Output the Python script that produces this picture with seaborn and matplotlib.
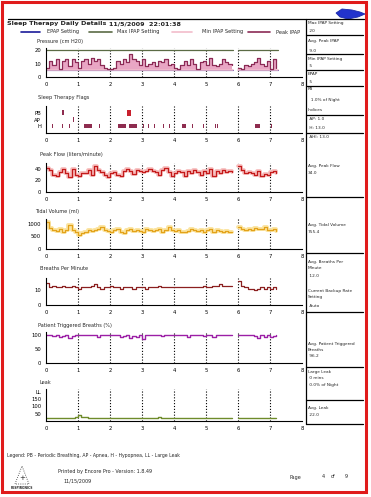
import numpy as np
import pandas as pd
import matplotlib
matplotlib.use("Agg")
import matplotlib.pyplot as plt
from matplotlib.lines import Line2D
from matplotlib.patches import Polygon, Rectangle
import seaborn as sns

sns.set_style("white")
plt.rcParams["font.family"] = ["DejaVu Sans"]

# ---------------- data ----------------
hours_seg1 = [0.0, 0.1, 0.2, 0.3, 0.4, 0.5, 0.6, 0.7, 0.8, 0.9,
              1.0, 1.1, 1.2, 1.3, 1.4, 1.5, 1.6, 1.7, 1.8, 1.9,
              2.0, 2.1, 2.2, 2.3, 2.4, 2.5, 2.6, 2.7, 2.8, 2.9,
              3.0, 3.1, 3.2, 3.3, 3.4, 3.5, 3.6, 3.7, 3.8, 3.9,
              4.0, 4.1, 4.2, 4.3, 4.4, 4.5, 4.6, 4.7, 4.8, 4.9,
              5.0, 5.1, 5.2, 5.3, 5.4, 5.5, 5.6, 5.7, 5.8]
hours_seg2 = [6.0, 6.1, 6.2, 6.3, 6.4, 6.5, 6.6, 6.7, 6.8, 6.9, 7.0, 7.1, 7.2]

peak_ipap_1 = [7, 12, 9, 13, 6, 12, 13, 8, 13, 11,
               7, 12, 13, 10, 14, 12, 13, 9, 7, 6,
               6, 7, 12, 10, 13, 11, 17, 13, 12, 9,
               13, 8, 10, 11, 8, 12, 11, 13, 9, 10,
               7, 6, 9, 12, 9, 13, 10, 6, 11, 12,
               9, 14, 9, 8, 10, 13, 11, 10, 9]
peak_ipap_2 = [7, 6, 9, 8, 10, 11, 14, 10, 8, 12, 6, 13, 7]
epap_setting = 5
min_ipap_setting = 5
max_ipap_setting = 20

peak_flow_1 = [42, 38, 30, 27, 35, 40, 33, 26, 40, 30,
               27, 32, 33, 38, 30, 44, 38, 34, 30, 25,
               33, 35, 30, 27, 37, 40, 36, 31, 38, 36,
               34, 37, 40, 36, 34, 30, 38, 41, 35, 28,
               33, 37, 34, 27, 36, 32, 38, 35, 30, 37,
               33, 40, 28, 36, 33, 38, 34, 36, 35]
peak_flow_2 = [45, 38, 32, 35, 33, 30, 36, 28, 31, 30, 34, 36, 33]

tidal_1 = [1100, 850, 760, 720, 800, 700, 760, 950, 780, 700,
           560, 650, 700, 780, 720, 760, 820, 900, 760, 720,
           700, 780, 800, 700, 650, 760, 800, 720, 780, 740,
           700, 820, 780, 740, 760, 800, 700, 760, 880, 780,
           720, 760, 700, 680, 740, 800, 760, 720, 780, 700,
           760, 820, 700, 760, 720, 680, 740, 700, 680]
tidal_2 = [880, 820, 780, 800, 760, 840, 820, 800, 900, 780, 760, 820, 720]

breaths_1 = [15, 12, 13, 12, 12, 13, 12, 12, 13, 12,
             11, 12, 12, 12, 13, 14, 12, 11, 12, 12,
             13, 12, 12, 11, 12, 12, 12, 11, 12, 12,
             12, 11, 12, 12, 12, 13, 12, 12, 12, 12,
             12, 12, 12, 12, 12, 12, 12, 12, 12, 13,
             12, 12, 13, 13, 14, 13, 13, 13, 13]
breaths_2 = [16, 13, 12, 11, 11, 10, 11, 12, 11, 12, 11, 12, 11]

triggered_1 = [100, 98, 96, 100, 92, 97, 100, 90, 95, 100,
               100, 100, 100, 100, 100, 100, 94, 100, 100, 100,
               100, 100, 100, 94, 96, 100, 88, 96, 92, 100,
               86, 100, 100, 100, 98, 100, 96, 100, 100, 100,
               100, 100, 98, 100, 92, 100, 100, 100, 98, 95,
               100, 100, 94, 100, 100, 100, 98, 100, 100]
triggered_2 = [100, 100, 100, 100, 100, 96, 90, 98, 92, 100, 94, 96, 100]

leak_1 = [20, 18, 18, 19, 20, 20, 22, 22, 24, 28,
          38, 30, 25, 22, 22, 21, 20, 20, 21, 20,
          22, 21, 20, 20, 20, 22, 21, 20, 22, 21,
          20, 20, 20, 22, 24, 26, 22, 21, 20, 20,
          20, 20, 20, 20, 20, 20, 20, 22, 22, 20,
          22, 24, 22, 20, 22, 20, 20, 20, 20]
leak_2 = [22, 22, 22, 22, 22, 22, 22, 22, 22, 22, 22, 22, 22]

# flag events: start hour, duration hour
flag_h_start = [0.19, 0.51, 0.71, 0.86, 1.19, 1.65, 2.26, 2.6, 3.03, 3.19, 3.39,
                3.66, 3.84, 4.24, 4.57, 4.91, 5.27, 5.35, 6.53, 6.64, 7.04]
flag_h_dur = [0.03, 0.03, 0.03, 0.03, 0.24, 0.04, 0.24, 0.25, 0.03, 0.04, 0.03,
              0.03, 0.03, 0.13, 0.03, 0.04, 0.03, 0.03, 0.09, 0.05, 0.03]
flag_pb_start = [0.51, 2.53]
flag_pb_dur = [0.04, 0.12]
flag_ap_start = [0.85]
flag_ap_dur = [0.03]
flag_labels = ["H", "AP", "PB"]

sidebar_entries = [
    (23, "Max IPAP Setting"), (31, " 20"),
    (41, "Avg. Peak IPAP"), (51, " 9.0"),
    (59, "Min IPAP Setting"), (66, " 5"),
    (74, "EPAP"), (82, " 5"),
    (89, "PB"), (100, "  1.0% of Night"),
    (110, "Indices"), (119, " AP: 1.0"), (128, " H: 13.0"),
    (137, " AHI: 13.0"),
    (166, "Avg. Peak Flow"), (173, "34.0"),
    (225, "Avg. Tidal Volume"), (232, "755.4"),
    (262, "Avg. Breaths Per"), (268, "Minute"), (276, " 12.0"),
    (291, "Current Backup Rate"), (297, "Setting"), (306, " Auto"),
    (344, "Avg. Patient Triggered"), (350, "Breaths"), (356, " 96.2"),
    (372, "Large Leak"), (378, " 0 mins"), (385, " 0.0% of Night"),
    (408, "Avg. Leak"), (415, " 22.0"),
]
sidebar_lines = [35, 54, 70, 86, 115, 133, 197, 253, 312, 367, 400, 424]

# ---------------- helpers ----------------
W, H = 371, 497
fig = plt.figure(figsize=(W / 100, H / 100), dpi=100)
fig.patch.set_facecolor("white")


def fx(x):
    return x / W


def fy(y):
    return 1 - y / H


def ftext(x, y, s, size=3.6, **kw):
    fig.text(fx(x), fy(y), s, fontsize=size, va="center", ha=kw.pop("ha", "left"), **kw)


def fline(x0, y0, x1, y1, color="black", lw=0.8, **kw):
    fig.add_artist(Line2D([fx(x0), fx(x1)], [fy(y0), fy(y1)], color=color, lw=lw,
                          transform=fig.transFigure, **kw))


def make_ax(top, bottom):
    ax = fig.add_axes([fx(46), fy(bottom), (302 - 46) / W, (bottom - top) / H])
    ax.set_facecolor("none")
    for s in ["top", "right"]:
        ax.spines[s].set_visible(False)
    for s in ["left", "bottom"]:
        ax.spines[s].set_color("black")
        ax.spines[s].set_linewidth(0.8)
    ax.set_xlim(0, 8)
    ax.set_xticks(range(9))
    ax.tick_params(axis="both", direction="inout", length=3, width=0.6,
                   labelsize=3.8, pad=2, colors="black")
    for h in range(1, 8):
        ax.axvline(h, color="black", ls=(0, (1, 1.6)), lw=0.8, zorder=0)
    return ax


def seg_df(v1, v2):
    return pd.DataFrame({
        "hours": hours_seg1 + hours_seg2,
        "value": v1 + v2,
        "seg": [1] * len(hours_seg1) + [2] * len(hours_seg2),
    })


def draw_series(ax, v1, v2, color, lw=0.9, halo=None, halo_lw=3.0):
    df = seg_df(v1, v2)
    if halo is not None:
        sns.lineplot(data=df, x="hours", y="value", units="seg", estimator=None,
                     ax=ax, color=halo, lw=halo_lw, drawstyle="steps-post",
                     legend=False)
    sns.lineplot(data=df, x="hours", y="value", units="seg", estimator=None,
                 ax=ax, color=color, lw=lw, drawstyle="steps-post", legend=False)
    ax.set_xlabel("")
    ax.set_ylabel("")


# ---------------- header ----------------
fig.add_artist(Rectangle((fx(2), fy(492)), fx(366) - fx(2), fy(2) - fy(492),
                         transform=fig.transFigure, fill=False,
                         edgecolor="#e01b1b", lw=2.2))
fline(8, 19, 364, 19, lw=0.9)
ftext(7, 24, "Sleep Therapy Daily Details", size=4.6, fontweight="bold", color="#222222")
ftext(109, 24, "11/5/2009  22:01:38", size=4.6, fontweight="bold", color="#222222")
# blue scribble
fig.add_artist(Polygon([(fx(x), fy(y)) for x, y in
                        [(336, 13), (342, 9), (352, 10), (360, 12), (365, 14),
                         (358, 17), (348, 19), (340, 17)]],
                       closed=True, transform=fig.transFigure,
                       facecolor="#2233cc", edgecolor="#1a2aaa", lw=0.6))

legend_items = [
    (21, 40, "#1a1a9a", 47, "EPAP Setting"),
    (89, 112, "#5b6b45", 117, "Max IPAP Setting"),
    (172, 192, "#f2bccb", 202, "Min IPAP Setting"),
    (248, 270, "#8b2a55", 276, "Peak IPAP"),
]
for x0, x1, c, tx, lab in legend_items:
    fline(x0, 32, x1, 32, color=c, lw=1.2)
    ftext(tx, 32, lab, size=3.6)

# ---------------- panels ----------------
# Pressure
ftext(37, 42, "Pressure (cm H20)", size=3.6)
ax = make_ax(48, 77)
ax.set_ylim(0, 21.5)
ax.set_yticks([0, 10, 20])
for hs, vs in [(hours_seg1, peak_ipap_1), (hours_seg2, peak_ipap_2)]:
    ax.fill_between(hs, min_ipap_setting, vs, step="post", color="#e9a6c4", lw=0)
    ax.plot([hs[0], hs[-1] + 0.05], [max_ipap_setting] * 2, color="#5b6b45", lw=0.9)
    ax.plot([hs[0], hs[-1] + 0.05], [epap_setting] * 2, color="#1a1a9a", lw=0.8)
    ax.plot([hs[0], hs[-1] + 0.05], [min_ipap_setting] * 2, color="#f2bccb", lw=1.2)
draw_series(ax, peak_ipap_1, peak_ipap_2, "#8b2a55", lw=0.9)
ax.set_ylim(0, 21.5)

# Flags
ftext(38, 97, "Sleep Therapy Flags", size=3.6)
ax = make_ax(106, 133)
ax.set_ylim(0, 4)
ax.set_yticks([1, 2, 3])
ax.set_yticklabels(flag_labels)
ax.bar(flag_h_start, 0.6, width=flag_h_dur, bottom=0.7, align="edge",
       color="#8e2c4f", lw=0)
ax.bar(flag_ap_start, 0.7, width=flag_ap_dur, bottom=1.65, align="edge",
       color="#8e2c4f", lw=0)
ax.bar(flag_pb_start, [0.7, 0.9], width=flag_pb_dur, bottom=[2.65, 2.55], align="edge",
       color=["#8e2c4f", "#c8202e"], lw=0)

# Peak flow
ftext(40, 155, "Peak Flow (liters/minute)", size=3.6)
ax = make_ax(163, 192)
draw_series(ax, peak_flow_1, peak_flow_2, "#c41a1a", lw=0.9, halo="#f6b8b8", halo_lw=2.6)
ax.set_ylim(0, 50)
ax.set_yticks([0, 20, 40])

# Tidal volume
ftext(35, 211, "Tidal Volume (ml)", size=3.6)
ax = make_ax(219, 249)
draw_series(ax, tidal_1, tidal_2, "#e3a21a", lw=0.9, halo="#fbe4a0", halo_lw=2.8)
ax.set_ylim(0, 1200)
ax.set_yticks([0, 500, 1000])

# Breaths per minute
ftext(40, 269, "Breaths Per Minute", size=3.6)
ax = make_ax(278, 305)
draw_series(ax, breaths_1, breaths_2, "#8b1f1f", lw=0.9)
ax.set_ylim(0, 18)
ax.set_yticks([0, 10])

# Patient triggered
ftext(38, 326, "Patient Triggered Breaths (%)", size=3.6)
ax = make_ax(332, 363)
draw_series(ax, triggered_1, triggered_2, "#9c1fa6", lw=1.0)
ax.set_ylim(0, 110)
ax.set_yticks([0, 50, 100])

# Leak
ftext(40, 383, "Leak", size=3.6)
ax = make_ax(389, 421)
draw_series(ax, leak_1, leak_2, "#6e8b2a", lw=1.0)
ax.set_ylim(0, 220)
ax.set_yticks([50, 100, 150, 200])
ax.set_yticklabels(["50", "100", "150", "LL"])
ax.set_xticks(range(9))

# ---------------- sidebar ----------------
fline(306, 19, 306, 424, lw=0.9)
for y in sidebar_lines:
    fline(306, y, 363, y, lw=0.9)
for y, s in sidebar_entries:
    ftext(307.5, y, s, size=3.1)

# ---------------- footer ----------------
ftext(7, 456, "Legend: PB - Periodic Breathing, AP - Apnea, H - Hypopnea, LL - Large Leak", size=3.3)
ftext(58, 472, "Printed by Encore Pro - Version: 1.8.49", size=3.5)
ftext(63, 481, "11/15/2009", size=3.5)
ftext(290, 477, "Page", size=3.5)
ftext(322, 477, "4", size=3.5)
ftext(331, 477, "of", size=3.5)
ftext(345, 477, "9", size=3.5)
# logo
fig.add_artist(Polygon([(fx(15), fy(484)), (fx(22), fy(466)), (fx(29), fy(484))],
                       closed=True, transform=fig.transFigure, fill=False,
                       edgecolor="#333333", lw=0.6, ls=":"))
ftext(22, 478, "+", size=5, ha="center")
ftext(22, 488, "RESPIRONICS", size=2.2, ha="center", fontweight="bold")

fig.savefig("out.png", dpi=100)
